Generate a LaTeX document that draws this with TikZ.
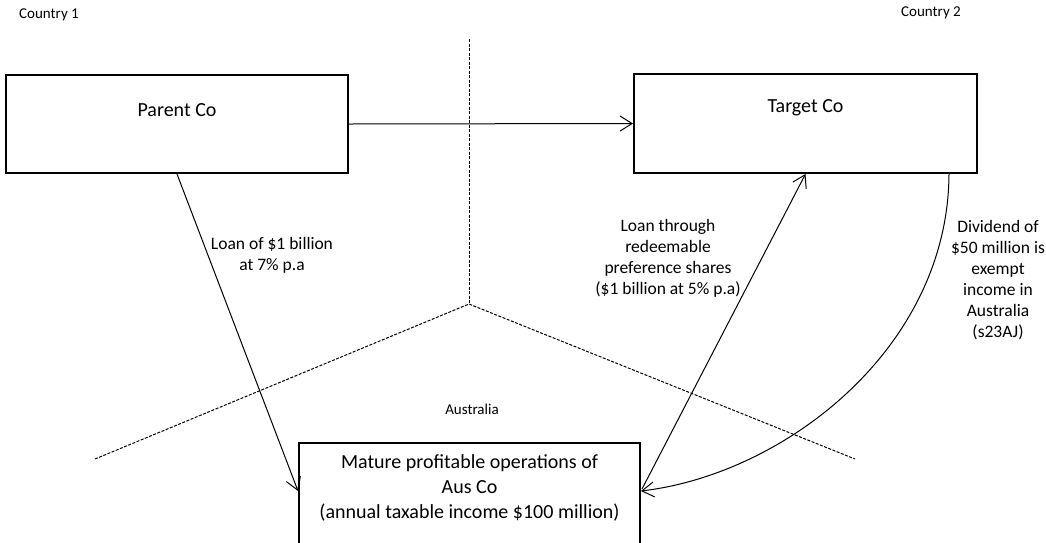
\documentclass[tikz,border=0pt]{standalone}
\usepackage{fontspec}
\setmainfont{Carlito}
\usetikzlibrary{arrows.meta,calc}
\tikzset{
  entity/.style={draw, line width=2pt, inner sep=0pt},
  boxfont/.style={font=\fontsize{20pt}{25pt}\selectfont},
  lblfont/.style={font=\fontsize{17.5pt}{21pt}\selectfont, align=center, inner sep=0pt},
  smallfont/.style={font=\fontsize{15pt}{18pt}\selectfont, inner sep=0pt},
  flow/.style={line width=1pt, -{Straight Barb[length=12pt,width=15pt,line width=1pt]}},
  border/.style={line width=1pt, dash pattern=on 3pt off 1.5pt}
}
\begin{document}
\begin{tikzpicture}[x=1pt,y=-1pt]
\useasboundingbox (0,0) rectangle (1046,542);
% borders
\coordinate (btop) at (469,39);
\coordinate (bjoin) at (469,304);
\coordinate (bleft) at (95,459);
\coordinate (bright) at (855,459);
\draw[border] (btop) -- (bjoin);
\draw[border] (bleft) -- (bjoin) -- (bright);
% region labels
\node[smallfont] (c1) at (49,15) {Country 1};
\node[smallfont] (c2) at (931,13) {Country 2};
\node[smallfont] (aus) at (472,409) {Australia};
% boxes
\node[entity, minimum width=342pt, minimum height=98pt,
      label={[boxfont, yshift=14pt]center:Parent Co}] (parent) at (177,124) {};
\node[entity, minimum width=343pt, minimum height=99pt,
      label={[boxfont, yshift=15.5pt]center:Target Co}] (target) at (805.5,123.5) {};
\node[entity, minimum width=341pt, minimum height=130pt,
      label={[boxfont, align=center, yshift=20pt]center:Mature profitable operations of\\Aus Co\\(annual taxable income \$100 million)}] (ausco) at (469.5,508) {};
% connectors
\draw[flow] (parent.east) -- (target.west);
\draw[flow] (parent.south) -- ($(ausco.north west)+(0,49)$);
\draw[flow] ($(ausco.north east)+(1,47)$) -- (target.south);
\coordinate (divstart) at ($(target.south east)+(-29,0)$);
\draw[flow] (divstart) .. controls (948,348) and (785,474) .. ($(ausco.north east)+(0,49)$);
% connector labels
\node[lblfont] (l1) at (272,255) {Loan of \$1 billion\\at 7\% p.a};
\node[lblfont] (l2) at (668,258.5) {Loan through\\redeemable\\preference shares\\(\$1 billion at 5\% p.a)};
\node[lblfont] (l3) at (998,280.5) {Dividend of\\\$50 million is\\exempt\\income in\\Australia\\(s23AJ)};
\end{tikzpicture}
\end{document}
